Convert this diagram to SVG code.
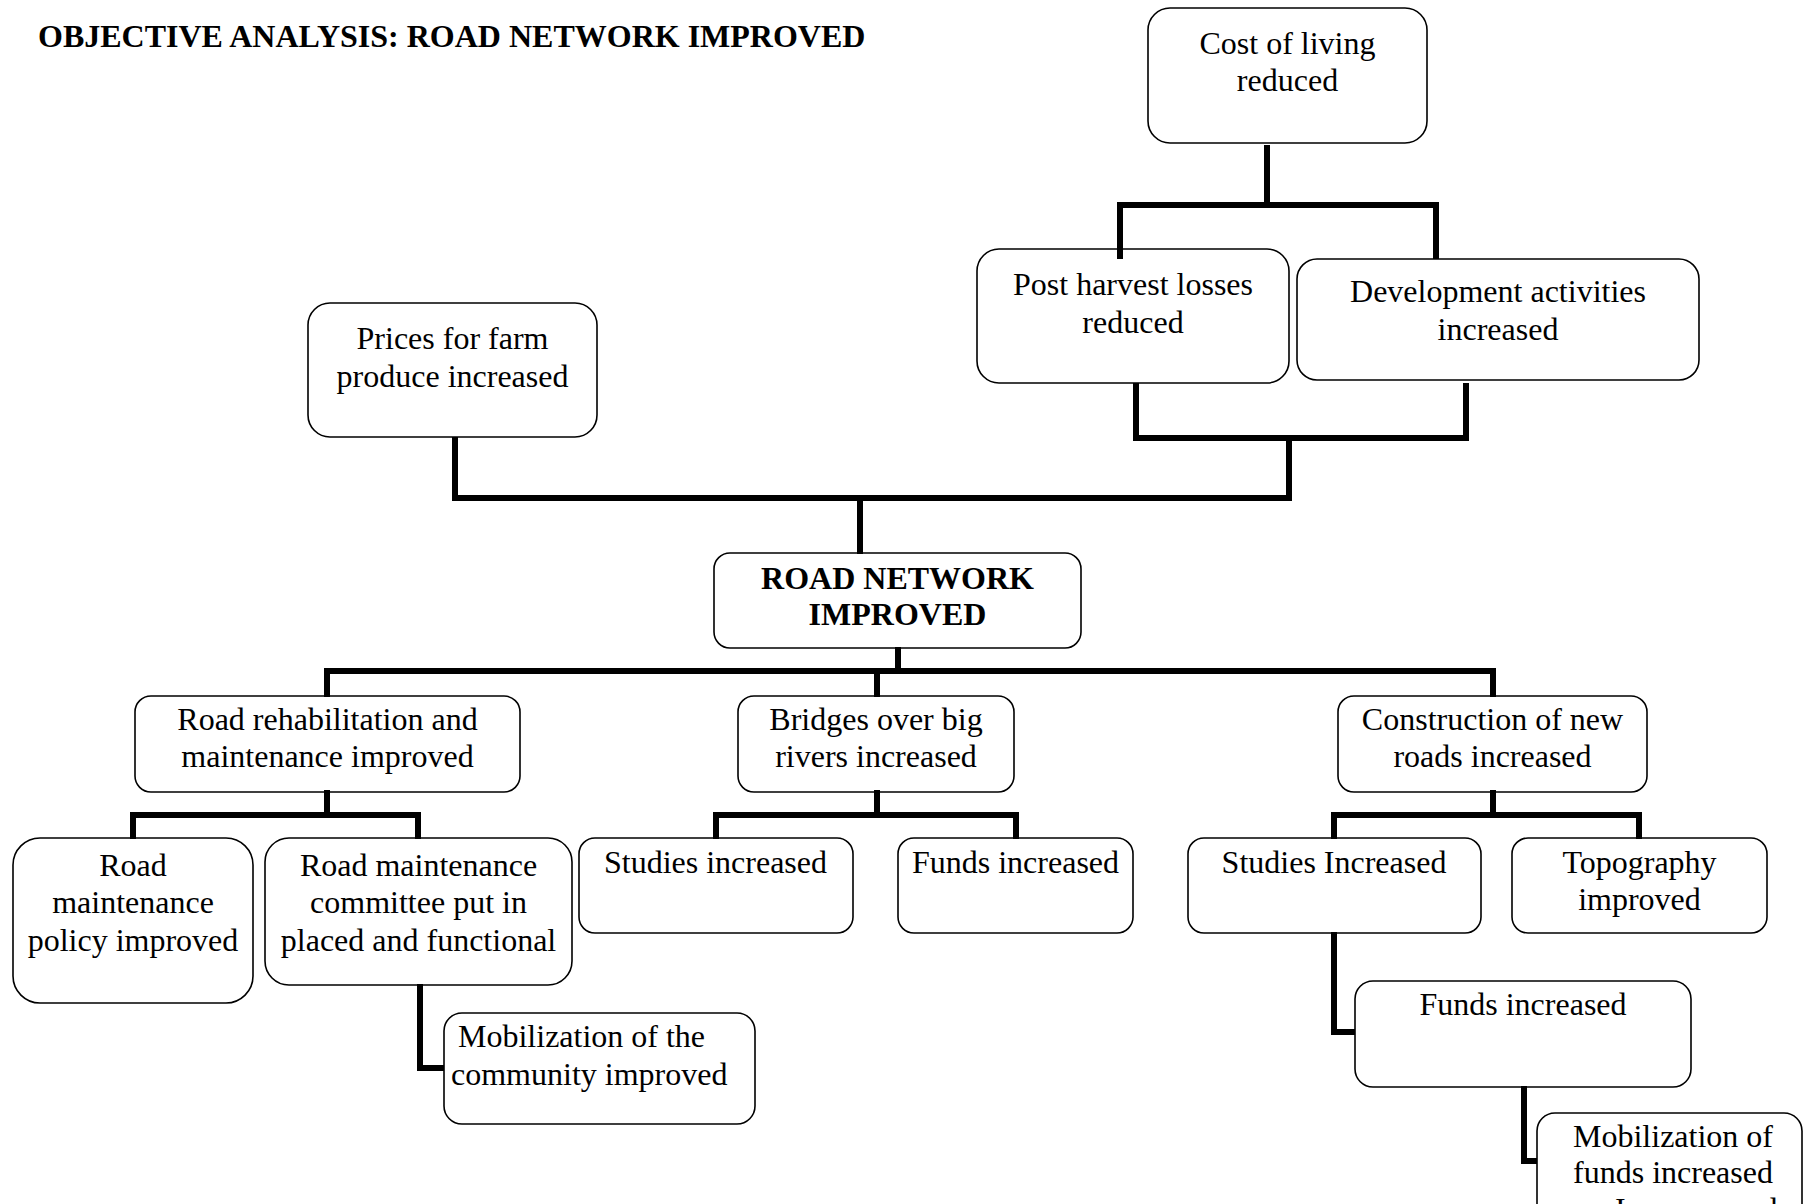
<svg xmlns="http://www.w3.org/2000/svg" width="1803" height="1204" viewBox="0 0 1803 1204">
  <style>
    .box { fill: #ffffff; stroke: #000000; stroke-width: 1.6; }
    .t { font-family: "Liberation Serif", "Times New Roman", serif; font-size: 32px; fill: #000000; text-anchor: middle; }
    .tl { font-family: "Liberation Serif", "Times New Roman", serif; font-size: 32px; fill: #000000; text-anchor: start; }
    .b { font-weight: bold; }
    .link { fill: none; stroke: #000000; stroke-width: 6; stroke-linejoin: miter; stroke-linecap: square; }
  </style>

  <rect width="1803" height="1204" fill="#ffffff"/>

  <text id="title" class="tl b" x="38" y="47">OBJECTIVE ANALYSIS: ROAD NETWORK IMPROVED</text>

  <!-- Nodes -->
  <g id="cost-of-living">
    <rect class="box" x="1148" y="8" width="279" height="135" rx="22" ry="22"/>
    <text class="t" x="1287.5" y="54">Cost of living</text>
    <text class="t" x="1287.5" y="91">reduced</text>
  </g>

  <g id="post-harvest">
    <rect class="box" x="977" y="249" width="312" height="134" rx="22" ry="22"/>
    <text class="t" x="1133" y="295">Post harvest losses</text>
    <text class="t" x="1133" y="333">reduced</text>
  </g>

  <g id="development">
    <rect class="box" x="1297" y="259" width="402" height="121" rx="20" ry="20"/>
    <text class="t" x="1498" y="302">Development activities</text>
    <text class="t" x="1498" y="340">increased</text>
  </g>

  <g id="prices">
    <rect class="box" x="308" y="303" width="289" height="134" rx="22" ry="22"/>
    <text class="t" x="452.5" y="349">Prices for farm</text>
    <text class="t" x="452.5" y="387">produce increased</text>
  </g>

  <g id="road-network">
    <rect class="box" x="714" y="553" width="367" height="95" rx="16" ry="16"/>
    <text class="t b" x="897.5" y="589">ROAD NETWORK</text>
    <text class="t b" x="897.5" y="625">IMPROVED</text>
  </g>

  <g id="road-rehabilitation">
    <rect class="box" x="135" y="696" width="385" height="96" rx="16" ry="16"/>
    <text class="t" x="327.5" y="730">Road rehabilitation and</text>
    <text class="t" x="327.5" y="767">maintenance improved</text>
  </g>

  <g id="bridges">
    <rect class="box" x="738" y="696" width="276" height="96" rx="16" ry="16"/>
    <text class="t" x="876" y="730">Bridges over big</text>
    <text class="t" x="876" y="767">rivers increased</text>
  </g>

  <g id="construction">
    <rect class="box" x="1338" y="696" width="309" height="96" rx="16" ry="16"/>
    <text class="t" x="1492.5" y="730">Construction of new</text>
    <text class="t" x="1492.5" y="767">roads increased</text>
  </g>

  <g id="maintenance-policy">
    <rect class="box" x="13" y="838" width="240" height="165" rx="27" ry="27"/>
    <text class="t" x="133" y="876">Road</text>
    <text class="t" x="133" y="913">maintenance</text>
    <text class="t" x="133" y="951">policy improved</text>
  </g>

  <g id="maintenance-committee">
    <rect class="box" x="265" y="838" width="307" height="147" rx="24" ry="24"/>
    <text class="t" x="418.5" y="876">Road maintenance</text>
    <text class="t" x="418.5" y="913">committee put in</text>
    <text class="t" x="418.5" y="951">placed and functional</text>
  </g>

  <g id="community-mobilization">
    <rect class="box" x="444" y="1013" width="311" height="111" rx="18" ry="18"/>
    <text class="tl" x="458" y="1047">Mobilization of the</text>
    <text class="tl" x="451" y="1085">community improved</text>
  </g>

  <g id="bridge-studies">
    <rect class="box" x="579" y="838" width="274" height="95" rx="16" ry="16"/>
    <text class="t" x="715.5" y="873">Studies increased</text>
  </g>

  <g id="bridge-funds">
    <rect class="box" x="898" y="838" width="235" height="95" rx="16" ry="16"/>
    <text class="t" x="1015.5" y="873">Funds increased</text>
  </g>

  <g id="road-studies">
    <rect class="box" x="1188" y="838" width="293" height="95" rx="16" ry="16"/>
    <text class="t" x="1334" y="873">Studies Increased</text>
  </g>

  <g id="topography">
    <rect class="box" x="1512" y="838" width="255" height="95" rx="16" ry="16"/>
    <text class="t" x="1639.5" y="873">Topography</text>
    <text class="t" x="1639.5" y="910">improved</text>
  </g>

  <g id="road-funds">
    <rect class="box" x="1355" y="981" width="336" height="106" rx="18" ry="18"/>
    <text class="t" x="1523" y="1015">Funds increased</text>
  </g>

  <g id="funds-mobilization">
    <rect class="box" x="1537" y="1113" width="265" height="140" rx="18" ry="18"/>
    <text class="t" x="1673" y="1147">Mobilization of</text>
    <text class="t" x="1673" y="1183">funds increased</text>
    <text class="tl" x="1615" y="1220" letter-spacing="5">Increased</text>
  </g>

  <!-- Connectors -->
  <g id="connectors">
    <path class="link" d="M1267 148 V205"/>
    <path class="link" d="M1120 256 V205 H1436 V256"/>
    <path class="link" d="M1136 386 V438 H1466 V386"/>
    <path class="link" d="M1289 438 V498"/>
    <path class="link" d="M455 440 V498 H1289"/>
    <path class="link" d="M860 498 V551"/>
    <path class="link" d="M898 650 V671"/>
    <path class="link" d="M327 694 V671 H1493 V694"/>
    <path class="link" d="M877 671 V694"/>
    <path class="link" d="M327 793 V815"/>
    <path class="link" d="M133 836 V815 H418 V836"/>
    <path class="link" d="M877 793 V815"/>
    <path class="link" d="M716 836 V815 H1016 V836"/>
    <path class="link" d="M1493 793 V815"/>
    <path class="link" d="M1334 836 V815 H1639 V836"/>
    <path class="link" d="M420 987 V1068 H441"/>
    <path class="link" d="M1334 935 V1032 H1352"/>
    <path class="link" d="M1524 1089 V1161 H1534"/>
  </g>
</svg>
